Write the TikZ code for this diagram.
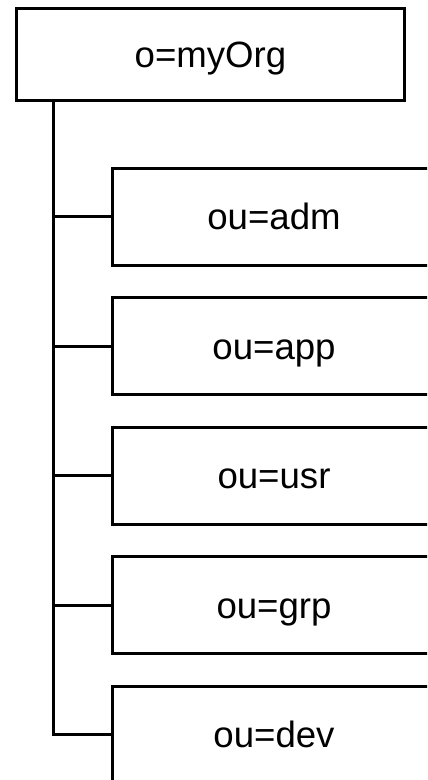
\documentclass[tikz,border=0pt]{standalone}
\usepackage{fontspec}
\setmainfont{Liberation Sans}
\begin{document}
\begin{tikzpicture}[x=1bp,y=-1bp,
  entry/.style={draw=black, line width=3bp, fill=white, rectangle, inner sep=0pt,
    font=\fontsize{36.6bp}{44bp}\selectfont, text height=26.7bp, text depth=0bp},
  rootbox/.style={entry, minimum width=388bp, minimum height=92bp},
  childbox/.style={entry, minimum width=323bp, minimum height=97bp},
  link/.style={draw=black, line width=3bp}]
\useasboundingbox (0,0) rectangle (427,780);
\clip (0,0) rectangle (427,780);

% root entry
\node[rootbox] (root) at (210.5,54.3) {o=myOrg};

% organisational units
\node[childbox] (adm) at (274,216.5) {ou=adm};
\node[childbox] (app) at (274,346) {ou=app};
\node[childbox] (usr) at (274,475.5) {ou=usr};
\node[childbox] (grp) at (274,605) {ou=grp};
\node[childbox] (dev) at (274,734.5) {ou=dev};

% trunk and branches
\coordinate (t) at ([xshift=38.2bp]root.south west);
\draw[link] (t) |- (dev.west);
\draw[link] (t |- adm.west) -- (adm.west);
\draw[link] (t |- app.west) -- (app.west);
\draw[link] (t |- usr.west) -- (usr.west);
\draw[link] (t |- grp.west) -- (grp.west);
\end{tikzpicture}
\end{document}
